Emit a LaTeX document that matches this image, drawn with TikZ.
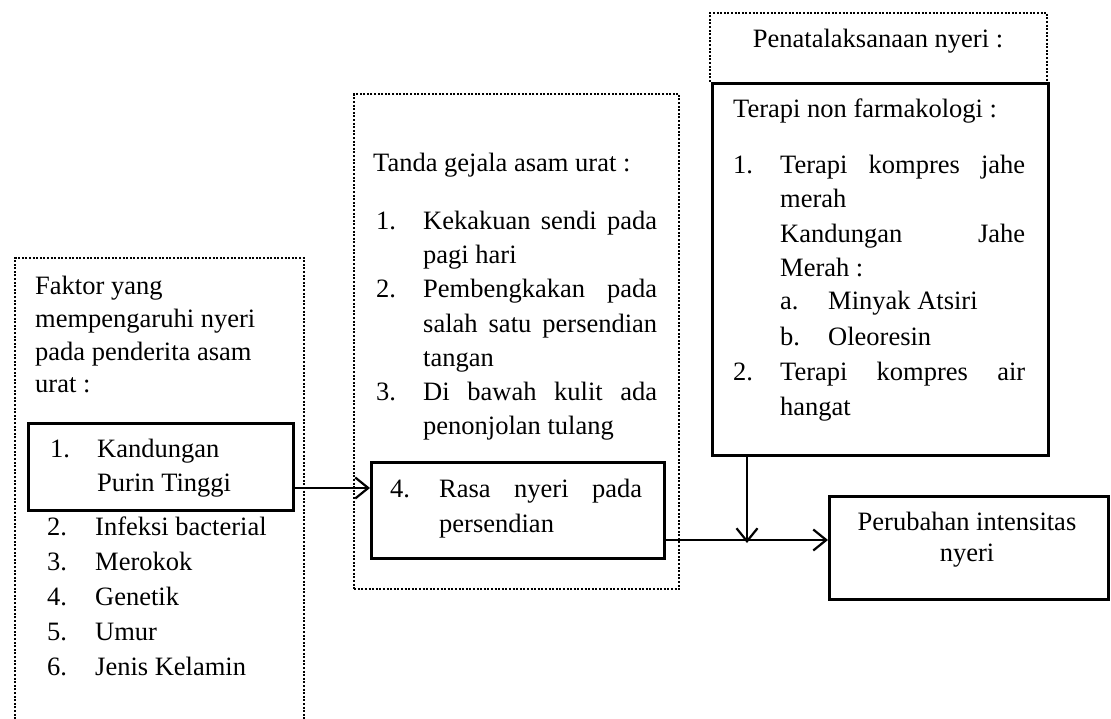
\documentclass[tikz,border=0pt]{standalone}
\usepackage{fontspec}
\setmainfont{Liberation Serif}
\usetikzlibrary{arrows.meta}
\newcommand\justln[2]{\makebox[#1pt][s]{#2}}
\begin{document}
\begin{tikzpicture}[x=1pt,y=-1pt,
  txt/.style={anchor=base west, inner sep=0pt, font=\fontsize{26.5}{30}\selectfont},
  ctxt/.style={anchor=base, inner sep=0pt, font=\fontsize{26.5}{30}\selectfont},
  dotbox/.style={draw, line width=2.2pt, dash pattern=on 2pt off 1.6pt},
  solidbox/.style={draw, line width=2.6pt},
  conn/.style={line width=2.2pt, -{Straight Barb[length=13pt,width=21pt,line width=2.2pt]}}]
\useasboundingbox (0,0) rectangle (1111,719);
\clip (0,0) rectangle (1111,719);
% ---- left group ----
\draw[dotbox] (15,730) -- (15,258) -- (304,258) -- (304,730);
\node[solidbox, minimum width=265pt, minimum height=87pt, inner sep=0pt, anchor=north west] (kand) at (27,422) {};
\node[txt] (f1) at (35,295) {Faktor yang};
\node[txt] (f2) at (35,327.5) {mempengaruhi nyeri};
\node[txt] (f3) at (35,360) {pada penderita asam};
\node[txt] (f4) at (35,392.5) {urat :};
\node[txt] (k1n) at (50,457) {1.};
\node[txt] (k1) at (97,457) {Kandungan};
\node[txt] (k2) at (97,491) {Purin Tinggi};
\node[txt] (i2n) at (47,535) {2.};
\node[txt] (i2) at (95,535) {Infeksi bacterial};
\node[txt] (i3n) at (47,570) {3.};
\node[txt] (i3) at (95,570) {Merokok};
\node[txt] (i4n) at (47,605) {4.};
\node[txt] (i4) at (95,605) {Genetik};
\node[txt] (i5n) at (47,640) {5.};
\node[txt] (i5) at (95,640) {Umur};
\node[txt] (i6n) at (47,675) {6.};
\node[txt] (i6) at (95,675) {Jenis Kelamin};
% ---- middle group ----
\node[dotbox, minimum width=325pt, minimum height=495pt, inner sep=0pt, anchor=north west] (mid) at (353,93) {};
\node[solidbox, minimum width=293pt, minimum height=96pt, inner sep=0pt, anchor=north west] (rasa) at (370,461) {};
\node[txt] (t0) at (373,172) {Tanda gejala asam urat :};
\node[txt] (t1n) at (376,230) {1.};
\node[txt] (t1) at (423,230) {\justln{234}{Kekakuan sendi pada}};
\node[txt] (t1b) at (423,264) {pagi hari};
\node[txt] (t2n) at (376,298) {2.};
\node[txt] (t2) at (423,298) {\justln{234}{Pembengkakan pada}};
\node[txt] (t2b) at (423,332) {\justln{234}{salah satu persendian}};
\node[txt] (t2c) at (423,366) {tangan};
\node[txt] (t3n) at (376,400) {3.};
\node[txt] (t3) at (423,400) {\justln{234}{Di bawah kulit ada}};
\node[txt] (t3b) at (423,434) {penonjolan tulang};
\node[txt] (r1n) at (390,497) {4.};
\node[txt] (r1) at (439,497) {\justln{203}{Rasa nyeri pada}};
\node[txt] (r2) at (439,532.5) {persendian};
% ---- right group ----
\draw[dotbox] (710,82) -- (710,13) -- (1047,13) -- (1047,82);
\node[solidbox, minimum width=336pt, minimum height=372pt, inner sep=0pt, anchor=north west] (terapi) at (711,82) {};
\node[ctxt] (pen) at (878,48) {Penatalaksanaan nyeri :};
\node[txt] (p0) at (733,118) {Terapi non farmakologi :};
\node[txt] (p1n) at (733,173.5) {1.};
\node[txt] (p1) at (780,173.5) {\justln{245}{Terapi kompres jahe}};
\node[txt] (p1b) at (780,208) {merah};
\node[txt] (p1c) at (780,242.5) {\justln{245}{Kandungan Jahe}};
\node[txt] (p1d) at (780,276.5) {Merah :};
\node[txt] (pan) at (780,310) {a.};
\node[txt] (pa) at (828,310) {Minyak Atsiri};
\node[txt] (pbn) at (780,345) {b.};
\node[txt] (pb) at (828,345) {Oleoresin};
\node[txt] (p2n) at (733,380.5) {2.};
\node[txt] (p2) at (780,380.5) {\justln{245}{Terapi kompres air}};
\node[txt] (p2b) at (780,415) {hangat};
% ---- outcome ----
\node[solidbox, minimum width=279pt, minimum height=103pt, inner sep=0pt, anchor=north west] (hasil) at (828,495) {};
\node[ctxt] (h1) at (967,530) {Perubahan intensitas};
\node[ctxt] (h2) at (967,561) {nyeri};
% ---- connectors ----
\coordinate (a1) at (292,488);
\draw[conn] (a1) -- (a1 -| rasa.west);
\coordinate (a2) at (663,540);
\draw[conn] (a2) -- (a2 -| hasil.west);
\coordinate (a3) at (747,454);
\draw[conn] (a3) -- (747,543);
\end{tikzpicture}
\end{document}
